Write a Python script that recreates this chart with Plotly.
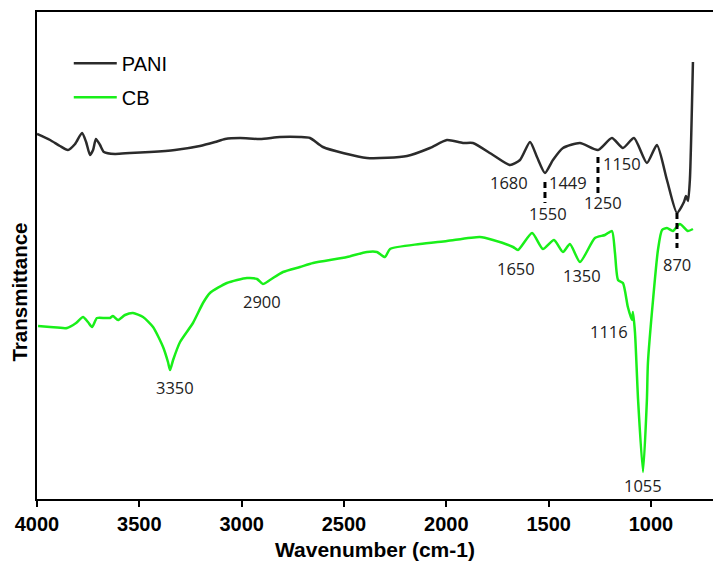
import plotly.graph_objects as go

# PANI spectrum (wavenumber cm-1, transmittance a.u.)
pani_wn = [4000, 3936, 3888, 3849, 3814, 3780, 3760, 3741, 3726, 3712, 3692, 3673,
           3619, 3546, 3448, 3326, 3204, 3130, 3081, 3008, 2910, 2813, 2715, 2666,
           2603, 2388, 2192, 2080, 1997, 1919, 1870, 1772, 1689, 1640, 1591, 1557,
           1518, 1479, 1430, 1347, 1259, 1191, 1137, 1083, 1020, 971, 922, 873,
           839, 829, 819, 810, 795]
pani_t = [365, 359, 353, 349, 355, 366, 357, 344, 349, 360, 354, 347,
          345, 346, 347, 349, 353, 357, 360, 361, 360, 362, 362, 361,
          352, 341, 343, 351, 359, 356, 356, 344, 334, 339, 357, 342,
          326, 339, 351, 356, 349, 361, 351, 361, 336, 354, 319, 286,
          297, 303, 298, 319, 437]

# CB spectrum
cb_wn = [3995, 3936, 3853, 3809, 3775, 3751, 3731, 3707, 3668, 3643, 3629, 3604,
         3570, 3531, 3482, 3433, 3384, 3360, 3350, 3335, 3301, 3238, 3189, 3155,
         3072, 2974, 2925, 2896, 2862, 2798, 2715, 2651, 2485, 2388, 2339, 2300,
         2275, 2129, 1997, 1836, 1772, 1674, 1650, 1581, 1528, 1474, 1430, 1396,
         1347, 1274, 1225, 1191, 1176, 1161, 1137, 1113, 1093, 1088, 1078, 1063,
         1039, 1020, 1015, 990, 966, 946, 922, 893, 859, 820, 795]
cb_t = [173, 172, 171, 176, 182, 177, 172, 181, 181, 181, 183, 179,
        184, 186, 182, 172, 152, 137, 129, 139, 157, 176, 196, 206,
        216, 221, 220, 215, 219, 227, 232, 236, 242, 247, 247, 242,
        250, 255, 258, 262, 259, 252, 249, 266, 250, 259, 247, 255,
        237, 261, 264, 268, 246, 219, 216, 192, 179, 187, 166, 99,
        27, 99, 136, 199, 249, 269, 271, 268, 275, 268, 270]

# Peak labels: text, x (wavenumber), y (a.u.)
label_text = ["1680", "1449", "1550", "1150", "1250", "870",
              "3350", "2900", "1650", "1350", "1116", "1055"]
label_x = [1694, 1406, 1503, 1142, 1235, 873, 3326, 2901, 1660, 1337, 1205, 1039]
label_y = [317, 317, 286, 336, 297, 235, 112, 198, 231, 224, 168, 14]

# Dashed marker lines: x, y start, y end
mark_x = [1518, 1259, 873]
mark_y0 = [317, 342, 286]
mark_y1 = [296, 306, 251]

x_ticks = [4000, 3500, 3000, 2500, 2000, 1500, 1000]

fig = go.Figure()
fig.add_trace(go.Scatter(x=pani_wn, y=pani_t, mode="lines", name="PANI", legendgroup="a",
                         line=dict(color="#2b2b2b", width=2.5, shape="spline", smoothing=0.6)))
fig.add_trace(go.Scatter(x=cb_wn, y=cb_t, mode="lines", name="CB", legendgroup="b",
                         line=dict(color="#19ef19", width=2.5, shape="spline", smoothing=0.6)))

for xv, y0, y1 in zip(mark_x, mark_y0, mark_y1):
    fig.add_shape(type="line", xref="x", yref="y", x0=xv, x1=xv, y0=y0, y1=y1,
                  line=dict(color="black", width=3, dash="6px,4px"))

for t, xv, yv in zip(label_text, label_x, label_y):
    fig.add_annotation(x=xv, y=yv, xref="x", yref="y", text=t, showarrow=False,
                       font=dict(family="Open Sans", size=16.5, color="#222222"),
                       xanchor="center", yanchor="middle")

# y-axis title placed as rotated text (sits below the plot centre in the original)
fig.add_annotation(x=-0.0266, y=0.424, xref="paper", yref="paper", text="Transmittance",
                   textangle=-90, showarrow=False, xanchor="center", yanchor="middle",
                   font=dict(family="Liberation Sans", size=20.5, color="black", weight="bold"))

fig.update_layout(
    width=713, height=561,
    margin=dict(l=37, r=0, t=12, b=62),
    plot_bgcolor="white", paper_bgcolor="white",
    showlegend=True,
    legend=dict(x=0.047, y=0.935, xanchor="left", yanchor="top",
                font=dict(family="Liberation Sans", size=20, color="black"),
                bgcolor="rgba(0,0,0,0)", itemwidth=43, tracegroupgap=5),
    xaxis=dict(range=[4000, 697], tickvals=x_ticks, ticktext=[str(v) for v in x_ticks],
               showline=True, linecolor="black", linewidth=2, mirror=True,
               ticks="outside", ticklen=6, tickwidth=2, tickcolor="black",
               showgrid=False, zeroline=False,
               tickfont=dict(family="Liberation Sans", size=20, color="black", weight="bold"),
               title=dict(text="Wavenumber (cm-1)", standoff=8,
                          font=dict(family="Liberation Sans", size=21, color="black", weight="bold"))),
    yaxis=dict(range=[0, 487], showline=True, linecolor="black", linewidth=2,
               showticklabels=False, ticks="", showgrid=False, zeroline=False),
)

fig.write_html("out.html")
